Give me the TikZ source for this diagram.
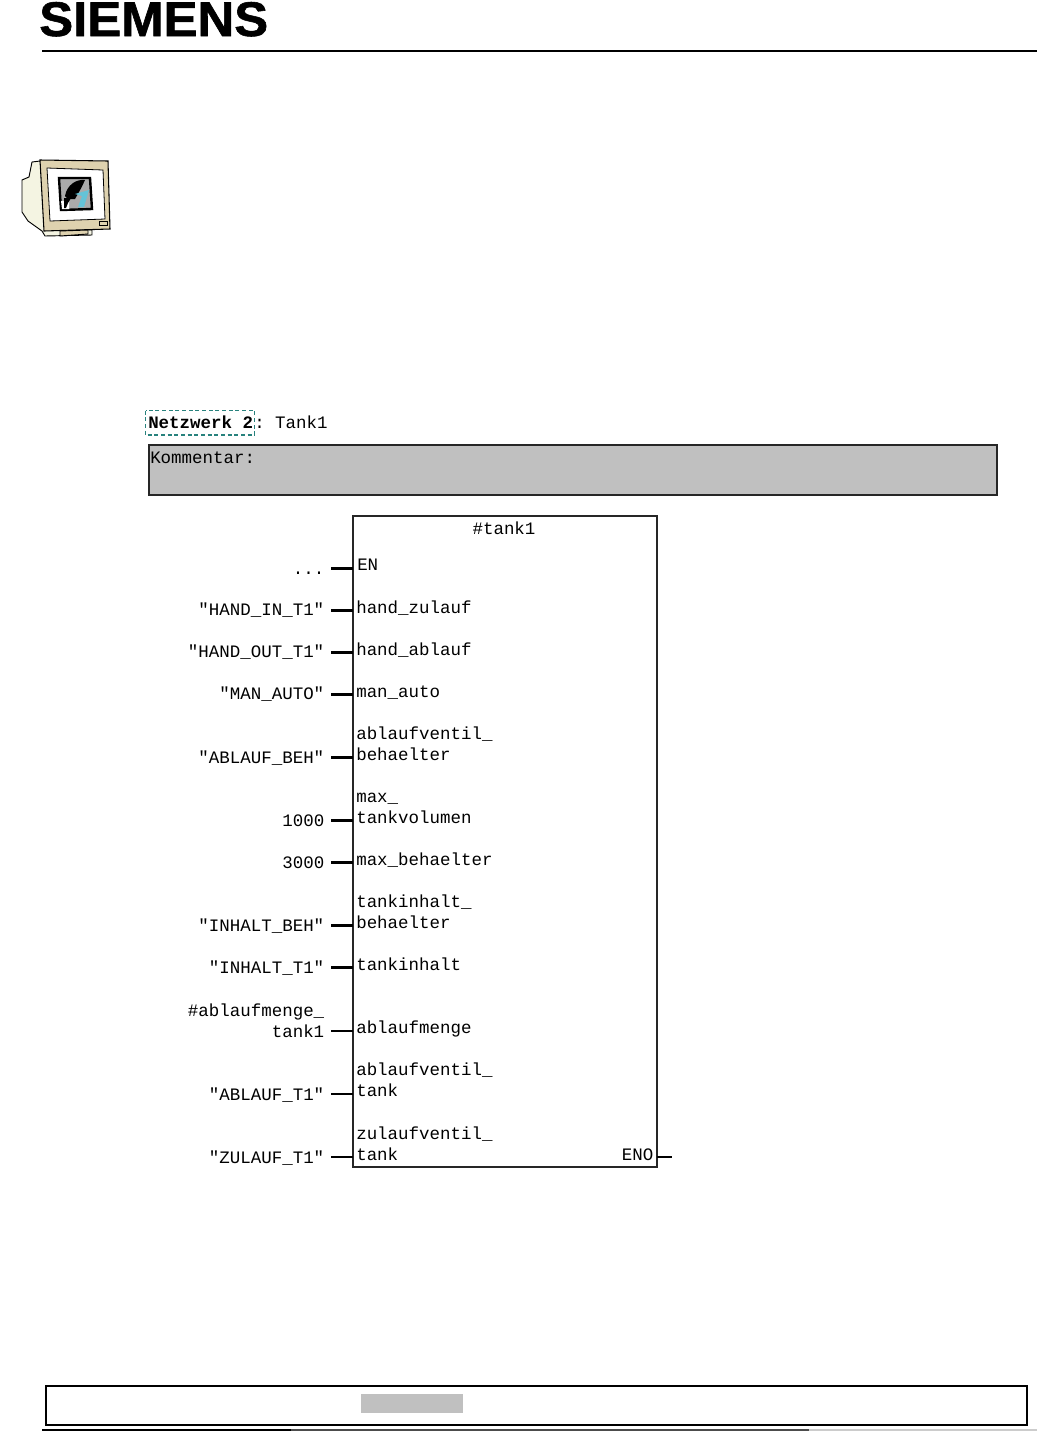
\documentclass[tikz,border=0pt]{standalone}
\usepackage{fontspec}
\setmonofont{Liberation Mono}
\newfontface\logofont[FakeBold=1.2]{Liberation Sans Bold}
\usetikzlibrary{calc}
\definecolor{commentgray}{RGB}{192,192,192}
\definecolor{focusteal}{RGB}{40,130,125}
\definecolor{monitorbeige}{RGB}{222,210,175}
\definecolor{monitorshell}{RGB}{244,244,226}
\definecolor{iconblue}{RGB}{100,195,215}
\definecolor{icongray}{RGB}{170,170,170}
\tikzset{
  codetext/.style={font=\ttfamily\fontsize{13.1}{15}\selectfont, inner sep=0pt},
  operand/.style={codetext, anchor=base east},
  pinname/.style={codetext, anchor=base west},
  wire/.style={line width=2.2pt},
  rulebar/.style={line width=1.5pt},
  boxframe/.style={draw=black!85, line width=1.5pt, inner sep=0pt, outer sep=0pt, anchor=north west}
}
\begin{document}
\begin{tikzpicture}[x=0.75pt, y=-0.75pt]
  \useasboundingbox (0,0) rectangle (1037,1432);

  % Header
  \node[font=\logofont\fontsize{36.5}{36.5}\selectfont, anchor=base west, inner sep=0pt, xscale=1.045] (logo) at (39,36) {SIEMENS};
  \draw[rulebar] (42,51) -- (1037,51);

  % Monitor icon
  \fill[monitorshell, draw=black, line width=0.7pt] (40,161) -- (32,162) -- (29,177) -- (22,180) -- (22,212) -- (28,221) -- (42,231) -- (45,236) -- (92,235) -- (92,230) -- (60,228) -- cycle;
  \fill[monitorbeige, draw=black, line width=0.8pt] (40,160) -- (108,161) -- (110,229) -- (44,231) -- cycle;
  \fill[white, draw=black, line width=0.6pt] (47,168) -- (103,170) -- (105,219) -- (50,221) -- cycle;
  \fill[icongray, draw=black, line width=1.8pt] (59,178) -- (90,178) -- (92,209) -- (61,210) -- cycle;
  \fill[black] (65,196) .. controls (67,185) and (76,179) .. (85,180) .. controls (82,187) and (79,192) .. (75,199) -- (68,199) -- cycle;
  \fill[iconblue] (75,194) -- (89,190) -- (84,207) -- (78,207) -- (82,196) -- cycle;
  \fill[white] (61,201) -- (69,201) -- (69,209) -- (62,209) -- cycle;
  \fill[black] (64,198) -- (71,198) -- (68,203) -- (66,208) -- (64,208) -- cycle;
  \draw[black, line width=0.6pt] (99,221) rectangle (107,225);
  \fill[monitorbeige, draw=black, line width=0.7pt] (60,231) -- (88,230) -- (88,234) -- (60,236) -- cycle;

  % Network title
  \node[codetext, anchor=base west, font=\ttfamily\bfseries\fontsize{13.1}{15}\selectfont] (title) at (148,428) {Netzwerk 2};
  \draw[focusteal, densely dashed, line width=1.4pt] (145.5,410.5) rectangle (254.5,435);
  \node[codetext, anchor=base west] (subtitle) at (254,428) {: Tank1};

  % Comment bar
  \node[boxframe, fill=commentgray, minimum width=636.4pt, minimum height=38.2pt] (comment) at (148.5,444.5) {};
  \node[codetext, anchor=base west] (commenttext) at (150,463) {Kommentar:};

  % Block
  \node[boxframe, minimum width=228.2pt, minimum height=488.6pt] (block) at (352.5,515.5) {};
  \node[codetext, anchor=base] (blockname) at (504,534) {\#tank1};

  % Inputs
  \node[operand] (opEN) at (324.5,574) {...};
  \node[pinname] (pinEN) at (357,570) {EN};
  \node[operand] (opHandIn) at (324.5,615) {"HAND\_IN\_T1"};
  \node[pinname] (pinHandIn) at (356,613) {hand\_zulauf};
  \node[operand] (opHandOut) at (324.5,657) {"HAND\_OUT\_T1"};
  \node[pinname] (pinHandOut) at (356,655) {hand\_ablauf};
  \node[operand] (opMan) at (324.5,699) {"MAN\_AUTO"};
  \node[pinname] (pinMan) at (356,697) {man\_auto};
  \node[operand] (opAblaufBeh) at (324.5,763) {"ABLAUF\_BEH"};
  \node[pinname] (pinAblaufA) at (356,739) {ablaufventil\_};
  \node[pinname] (pinAblaufB) at (356,760) {behaelter};
  \node[operand] (opMaxTank) at (324.5,826) {1000};
  \node[pinname] (pinMaxA) at (356,802) {max\_};
  \node[pinname] (pinMaxB) at (356,823) {tankvolumen};
  \node[operand] (opMaxBeh) at (324.5,868) {3000};
  \node[pinname] (pinMaxBeh) at (356,865) {max\_behaelter};
  \node[operand] (opInhaltBeh) at (324.5,931) {"INHALT\_BEH"};
  \node[pinname] (pinInhaltA) at (356,907) {tankinhalt\_};
  \node[pinname] (pinInhaltB) at (356,928) {behaelter};
  \node[operand] (opInhaltT) at (324.5,973) {"INHALT\_T1"};
  \node[pinname] (pinInhaltT) at (356,970) {tankinhalt};
  \node[operand] (opMengeA) at (324.5,1016) {\#ablaufmenge\_};
  \node[operand] (opMengeB) at (324.5,1037) {tank1};
  \node[pinname] (pinMenge) at (356,1033.5) {ablaufmenge};
  \node[operand] (opAblaufT) at (324.5,1100) {"ABLAUF\_T1"};
  \node[pinname] (pinAblaufTA) at (356,1075.5) {ablaufventil\_};
  \node[pinname] (pinAblaufTB) at (356,1096.5) {tank};
  \node[operand] (opZulaufT) at (324.5,1163) {"ZULAUF\_T1"};
  \node[pinname] (pinZulaufA) at (356,1139) {zulaufventil\_};
  \node[pinname] (pinZulaufB) at (356,1160) {tank};
  \node[codetext, anchor=base east] (pinENO) at (653.5,1160) {ENO};

  % Wires
  \coordinate (wireEN) at (331,568.5);
  \coordinate (wireHandIn) at (331,610.5);
  \coordinate (wireHandOut) at (331,652.5);
  \coordinate (wireMan) at (331,694.5);
  \coordinate (wireAblaufBeh) at (331,757.5);
  \coordinate (wireMaxTank) at (331,820.5);
  \coordinate (wireMaxBeh) at (331,862.5);
  \coordinate (wireInhaltBeh) at (331,925.5);
  \coordinate (wireInhaltT) at (331,967.5);
  \coordinate (wireMenge) at (331,1031);
  \coordinate (wireAblaufT) at (331,1094);
  \coordinate (wireZulaufT) at (331,1157);
  \coordinate (wireENO) at (671.5,1157);
  \draw[wire] (wireEN) -- (wireEN -| block.west);
  \draw[wire] (wireHandIn) -- (wireHandIn -| block.west);
  \draw[wire] (wireHandOut) -- (wireHandOut -| block.west);
  \draw[wire] (wireMan) -- (wireMan -| block.west);
  \draw[wire] (wireAblaufBeh) -- (wireAblaufBeh -| block.west);
  \draw[wire] (wireMaxTank) -- (wireMaxTank -| block.west);
  \draw[wire] (wireMaxBeh) -- (wireMaxBeh -| block.west);
  \draw[wire] (wireInhaltBeh) -- (wireInhaltBeh -| block.west);
  \draw[wire] (wireInhaltT) -- (wireInhaltT -| block.west);
  \draw[wire] (wireMenge) -- (wireMenge -| block.west);
  \draw[wire] (wireAblaufT) -- (wireAblaufT -| block.west);
  \draw[wire] (wireZulaufT) -- (wireZulaufT -| block.west);
  \draw[wire] (wireENO -| block.east) -- (wireENO);

  % Footer
  \draw[line width=1.5pt] (45.5,1385.5) rectangle (1027,1425);
  \fill[commentgray] (361,1394) rectangle (463,1413);
  \draw[line width=1.5pt, black] (42,1430) -- (291,1430);
  \draw[line width=1.5pt, black!70] (291,1430) -- (809,1430);
  \draw[line width=1.5pt, black!20] (809,1430) -- (1037,1430);
\end{tikzpicture}
\end{document}
